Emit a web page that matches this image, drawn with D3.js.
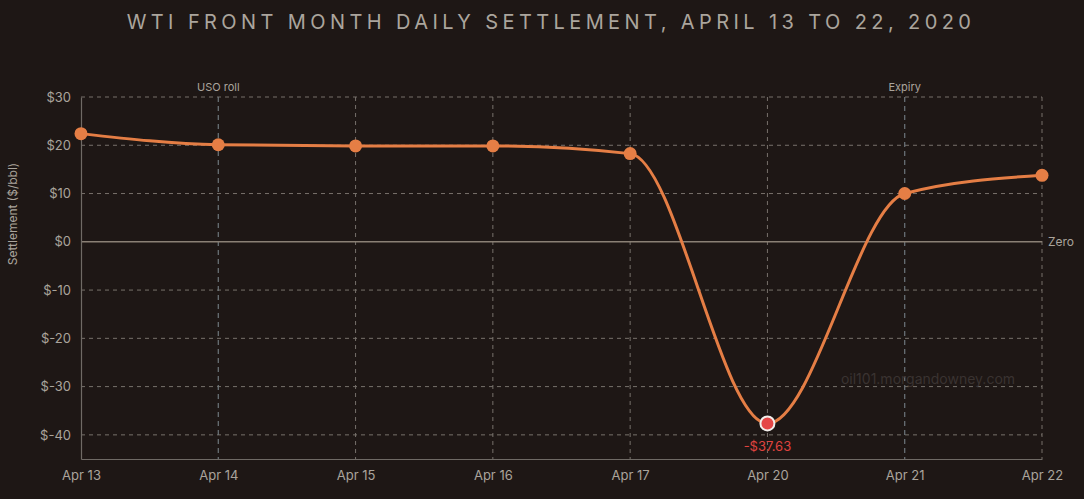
<!DOCTYPE html>
<html>
<head>
<meta charset="utf-8">
<script src="https://cdn.jsdelivr.net/npm/d3@7/dist/d3.min.js"></script>
<style>
  html, body { margin: 0; padding: 0; background: #1e1715; }
  svg { display: block; font-family: Inter, "Noto Sans", sans-serif; }
</style>
</head>
<body>
<svg id="chart" width="1084" height="499"></svg>
<script>
const categories = ["Apr 13", "Apr 14", "Apr 15", "Apr 16", "Apr 17", "Apr 20", "Apr 21", "Apr 22"];
const settlement = [22.41, 20.11, 19.87, 19.87, 18.27, -37.63, 10.01, 13.78];
const yTicks = [30, 20, 10, 0, -10, -20, -30, -40];
const yDomain = [-45, 30];
const eventDays = ["Apr 14", "Apr 21"];
const eventLabels = ["USO roll", "Expiry"];
const lowDay = "Apr 20";
const lowLabel = "-$37.63";
const titleText = "WTI FRONT MONTH DAILY SETTLEMENT, APRIL 13 TO 22, 2020";
const yLabel = "Settlement ($/bbl)";
const watermark = "oil101.morgandowney.com";

const W = 1084, H = 499;
const m = { left: 81, right: 42, top: 97, bottom: 40 };
const svg = d3.select("#chart");
svg.append("rect").attr("width", W).attr("height", H).attr("fill", "#1e1715");

const x = d3.scalePoint().domain(categories).range([m.left, W - m.right]);
const y = d3.scaleLinear().domain(yDomain).range([H - m.bottom, m.top]);

const gridColor = "#77716b";
const textColor = "#aaa49c";

// title
svg.append("text").attr("x", W / 2 + 9).attr("y", 29).attr("text-anchor", "middle")
  .attr("fill", "#aba59d").attr("font-size", 20).attr("letter-spacing", "4.4px")
  .text(titleText);

// horizontal grid
svg.append("g").selectAll("line").data(yTicks.filter(d => d !== 0)).join("line")
  .attr("x1", m.left).attr("x2", W - m.right)
  .attr("y1", d => y(d)).attr("y2", d => y(d))
  .attr("stroke", gridColor).attr("stroke-width", 1).attr("stroke-dasharray", "4,4");

// vertical grid
svg.append("g").selectAll("line").data(categories.slice(1).filter(d => !eventDays.includes(d))).join("line")
  .attr("x1", d => x(d)).attr("x2", d => x(d))
  .attr("y1", m.top).attr("y2", H - m.bottom)
  .attr("stroke", gridColor).attr("stroke-width", 1).attr("stroke-dasharray", "4,4");

// event annotation lines
svg.append("g").selectAll("line").data(eventDays).join("line")
  .attr("x1", d => x(d)).attr("x2", d => x(d))
  .attr("y1", m.top).attr("y2", H - m.bottom)
  .attr("stroke", "#6e777c").attr("stroke-width", 1.2).attr("stroke-dasharray", "5,4");
svg.append("g").selectAll("text").data(eventDays).join("text")
  .attr("x", d => x(d)).attr("y", 91).attr("text-anchor", "middle")
  .attr("fill", textColor).attr("font-size", 11)
  .text((d, i) => eventLabels[i]);

// zero line
svg.append("line").attr("x1", m.left).attr("x2", W - m.right)
  .attr("y1", y(0)).attr("y2", y(0)).attr("stroke", "#8a8075").attr("stroke-width", 1.5);
svg.append("text").attr("x", W - m.right + 6).attr("y", y(0) + 4.5)
  .attr("fill", textColor).attr("font-size", 12).text("Zero");

// axes
const yAxis = svg.append("g").attr("transform", `translate(${m.left},0)`)
  .call(d3.axisLeft(y).tickValues(yTicks).tickSize(0).tickPadding(10).tickFormat(d => "$" + d));
yAxis.select(".domain").attr("stroke", "#6f6a65").attr("stroke-width", 1.2);
yAxis.selectAll("text").attr("fill", textColor).attr("font-size", 13).attr("font-family", "Inter, sans-serif");

const xAxis = svg.append("g").attr("transform", `translate(0,${H - m.bottom})`)
  .call(d3.axisBottom(x).tickSize(0).tickPadding(12));
xAxis.select(".domain").attr("stroke", "#6f6a65").attr("stroke-width", 1.2);
xAxis.selectAll("text").attr("fill", textColor).attr("font-size", 13).attr("font-family", "Inter, sans-serif");

// y label
svg.append("text").attr("transform", `translate(17,214) rotate(-90)`)
  .attr("text-anchor", "middle").attr("fill", textColor).attr("font-size", 12).text(yLabel);

// watermark
svg.append("text").attr("x", 928).attr("y", 384).attr("text-anchor", "middle")
  .attr("fill", "#3a3331").attr("font-size", 14).text(watermark);

// line
const data = categories.map((c, i) => ({ c, v: settlement[i] }));
svg.append("path").datum(data)
  .attr("fill", "none").attr("stroke", "#e57e45").attr("stroke-width", 3)
  .attr("d", d3.line().x(d => x(d.c)).y(d => y(d.v)).curve(d3.curveMonotoneX));

// points
svg.append("g").selectAll("circle").data(data.filter(d => d.c !== lowDay)).join("circle")
  .attr("cx", d => x(d.c)).attr("cy", d => y(d.v)).attr("r", 6.5).attr("fill", "#e57e45");

const low = data.find(d => d.c === lowDay);
svg.append("circle").attr("cx", x(low.c)).attr("cy", y(low.v)).attr("r", 7)
  .attr("fill", "#e54646").attr("stroke", "#f2eeea").attr("stroke-width", 2);
svg.append("text").attr("x", x(low.c)).attr("y", y(low.v) + 28).attr("text-anchor", "middle")
  .attr("fill", "#e0433f").attr("font-size", 13).text(lowLabel);
</script>
</body>
</html>
